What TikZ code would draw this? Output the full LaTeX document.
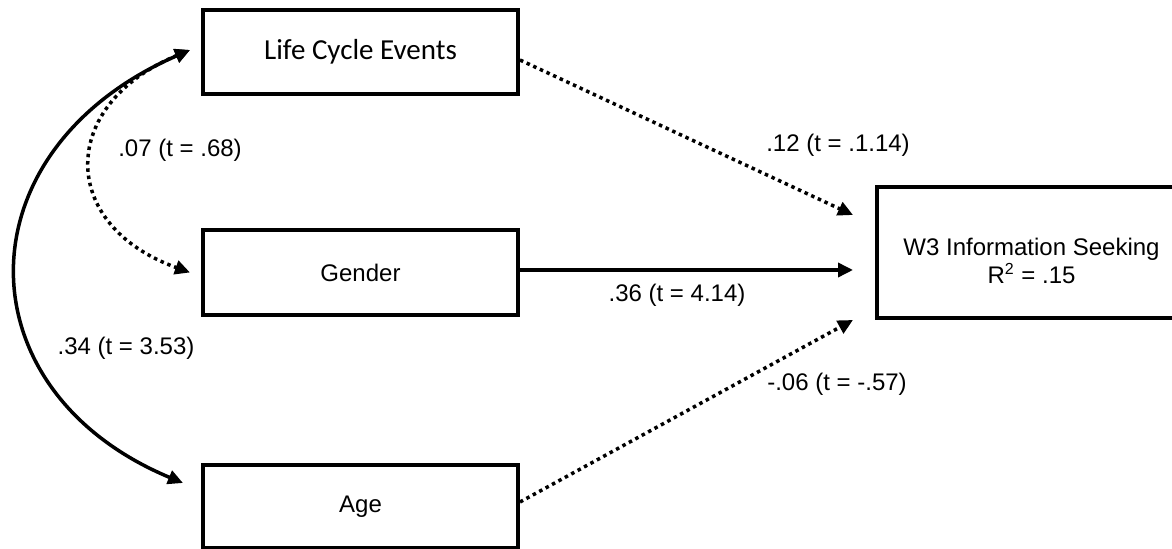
\documentclass[tikz,border=0pt]{standalone}
\usepackage{fontspec}
\setmainfont{Liberation Sans}
\newfontfamily\calibri{Carlito}
\usetikzlibrary{arrows.meta}
\begin{document}
\begin{tikzpicture}[x=0.5pt,y=-0.5pt,
  box/.style={draw, line width=2pt, minimum width=157.5pt, inner sep=0pt, font=\fontsize{12}{14}\selectfont},
  lab/.style={font=\fontsize{12}{14}\selectfont, inner sep=0pt},
  onetip/.style={-{Triangle[length=7.5pt,width=7pt]}},
  twotip/.style={{Triangle[length=7.5pt,width=7pt]}-{Triangle[length=7.5pt,width=7pt]}},
  solidline/.style={line width=1.75pt},
  dotline/.style={line width=1.75pt, dash pattern=on 1.75pt off 1.9pt},
]
\useasboundingbox (0,0) rectangle (1172,549);
\clip (0,0) rectangle (1172,549);

\node[box, minimum height=42pt, font=\calibri\fontsize{14.5}{17}\selectfont] (life) at (360.5,52) {Life Cycle Events};
\node[box, minimum height=42.5pt] (gender) at (360.5,272.5) {Gender};
\node[box, minimum height=41.5pt] (age) at (360.5,506.5) {Age};
\node[box, minimum width=154.5pt, minimum height=65.5pt] (w3) at (1031.5,252.5) {};
\node[lab, align=center, font=\fontsize{12}{14}\selectfont] (w3text) at (1031.5,261) {W3 Information Seeking\\R\textsuperscript{2} = .15};

\coordinate (e1) at (853,215);
\coordinate (e2) at (853,270);
\coordinate (e3) at (853,320);

\draw[dotline, onetip] ([yshift=-4pt]life.east) -- (e1);
\draw[solidline, onetip] ([yshift=1.25pt]gender.east) -- (e2);
\draw[dotline, onetip] ([yshift=2.25pt]age.east) -- (e3);

\draw[solidline, twotip] ([xshift=-9pt,yshift=11.75pt]age.west) .. controls (-40,390) and (-40,150) .. ([xshift=-5.5pt,yshift=1pt]life.west);
\draw[dotline, twotip] ([xshift=-5.5pt,yshift=1pt]life.west) .. controls (58,105) and (58,225) .. ([xshift=-5.5pt]gender.west);

\node[lab] (l1) at (838,145) {.12 (t = .1.14)};
\node[lab] (l2) at (677,295) {.36 (t = 4.14)};
\node[lab] (l3) at (837,384) {-.06 (t = -.57)};
\node[lab] (l4) at (180,150) {.07 (t = .68)};
\node[lab] (l5) at (126,348) {.34 (t = 3.53)};
\end{tikzpicture}
\end{document}
